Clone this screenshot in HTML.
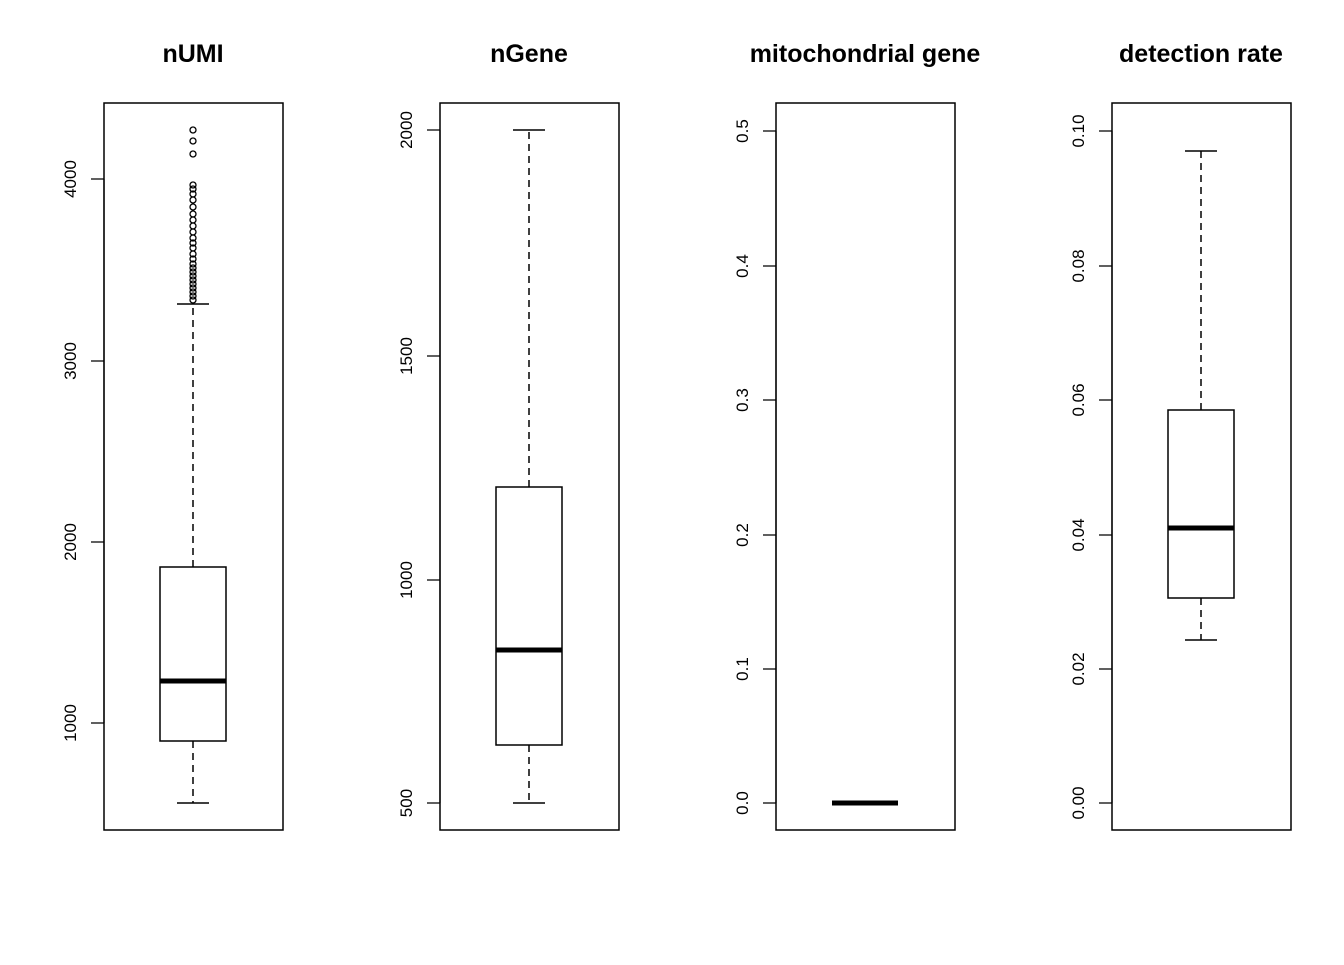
<!DOCTYPE html>
<html><head><style>body{margin:0;background:#fff}</style></head><body>
<svg width="1344" height="960" xmlns="http://www.w3.org/2000/svg" font-family="Liberation Sans, sans-serif" stroke="#000" fill="none">
<g font-weight="bold" font-size="25" fill="#000" stroke="none" text-anchor="middle">
<text x="193" y="62">nUMI</text><text x="529" y="62">nGene</text><text x="865" y="62">mitochondrial gene</text><text x="1201" y="62">detection rate</text>
</g>
<g stroke-width="1.5">
<rect x="104" y="103" width="179" height="727"/><rect x="440" y="103" width="179" height="727"/><rect x="776" y="103" width="179" height="727"/><rect x="1112" y="103" width="179" height="727"/>
</g>
<g stroke-width="1.2">
<path d="M104 179V723M91 179H104M91 361H104M91 542H104M91 723H104"/>
<path d="M440 130V803M427 130H440M427 356H440M427 580H440M427 803H440"/>
<path d="M776 131V803M763 131H776M763 266H776M763 400H776M763 535H776M763 669H776M763 803H776"/>
<path d="M1112 131V803M1099 131H1112M1099 266H1112M1099 400H1112M1099 535H1112M1099 669H1112M1099 803H1112"/>
</g>
<g font-size="17" fill="#000" stroke="none" text-anchor="middle">
<text transform="translate(76,179) rotate(-90)">4000</text><text transform="translate(76,361) rotate(-90)">3000</text><text transform="translate(76,542) rotate(-90)">2000</text><text transform="translate(76,723) rotate(-90)">1000</text>
<text transform="translate(412,130) rotate(-90)">2000</text><text transform="translate(412,356) rotate(-90)">1500</text><text transform="translate(412,580) rotate(-90)">1000</text><text transform="translate(412,803) rotate(-90)">500</text>
<text transform="translate(748,131) rotate(-90)">0.5</text><text transform="translate(748,266) rotate(-90)">0.4</text><text transform="translate(748,400) rotate(-90)">0.3</text><text transform="translate(748,535) rotate(-90)">0.2</text><text transform="translate(748,669) rotate(-90)">0.1</text><text transform="translate(748,803) rotate(-90)">0.0</text>
<text transform="translate(1084,131) rotate(-90)">0.10</text><text transform="translate(1084,266) rotate(-90)">0.08</text><text transform="translate(1084,400) rotate(-90)">0.06</text><text transform="translate(1084,535) rotate(-90)">0.04</text><text transform="translate(1084,669) rotate(-90)">0.02</text><text transform="translate(1084,803) rotate(-90)">0.00</text>
</g>
<g stroke-width="1.5">
<rect x="160" y="567" width="66" height="174"/><path d="M193 567V304M193 741V803" stroke-dasharray="7,5"/><path d="M177 304H209M177 803H209"/>
<rect x="496" y="487" width="66" height="258"/><path d="M529 487V130M529 745V803" stroke-dasharray="7,5"/><path d="M513 130H545M513 803H545"/>
<rect x="1168" y="410" width="66" height="188"/><path d="M1201 410V151M1201 598V640" stroke-dasharray="7,5"/><path d="M1185 151H1217M1185 640H1217"/>
</g>
<g stroke-width="5">
<path d="M160 681H226M496 650H562M832 803H898M1168 528H1234"/>
</g>
<g stroke-width="1.3">
<circle cx="193" cy="130" r="3"/><circle cx="193" cy="141" r="3"/><circle cx="193" cy="154" r="3"/>
<circle cx="193" cy="185" r="3"/><circle cx="193" cy="189" r="3"/><circle cx="193" cy="194" r="3"/><circle cx="193" cy="200" r="3"/><circle cx="193" cy="207" r="3"/><circle cx="193" cy="214" r="3"/><circle cx="193" cy="220" r="3"/><circle cx="193" cy="226" r="3"/><circle cx="193" cy="232" r="3"/><circle cx="193" cy="238" r="3"/><circle cx="193" cy="243" r="3"/><circle cx="193" cy="248" r="3"/><circle cx="193" cy="254" r="3"/><circle cx="193" cy="259" r="3"/><circle cx="193" cy="264" r="3"/><circle cx="193" cy="268" r="3"/><circle cx="193" cy="272" r="3"/><circle cx="193" cy="276" r="3"/><circle cx="193" cy="280" r="3"/><circle cx="193" cy="284" r="3"/><circle cx="193" cy="288" r="3"/><circle cx="193" cy="292" r="3"/><circle cx="193" cy="296" r="3"/><circle cx="193" cy="300" r="3"/>
</g>
</svg>
</body></html>
